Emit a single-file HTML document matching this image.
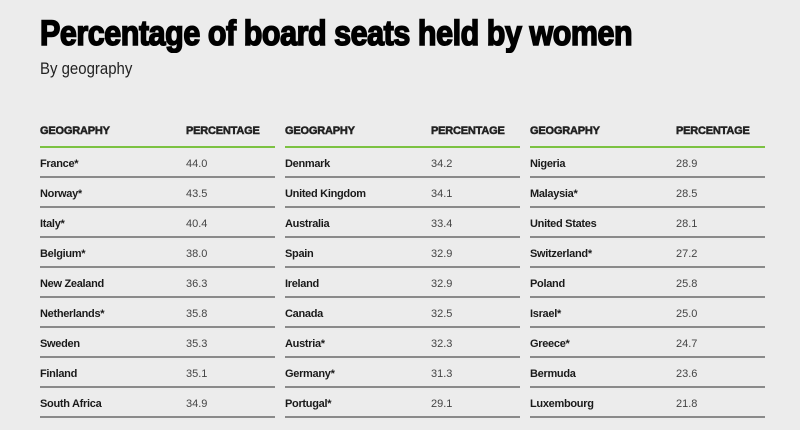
<!DOCTYPE html>
<html><head><meta charset="utf-8"><style>
body{margin:0;width:800px;height:430px;background:#ececec;font-family:"Liberation Sans",sans-serif;overflow:hidden;position:relative;color:#1a1a1a}
.t{position:absolute;left:40px;top:14px;font-size:35px;font-weight:900;color:#000;transform:scaleX(0.87);transform-origin:left top;white-space:nowrap;letter-spacing:-0.5px;-webkit-text-stroke:1.6px #000}
.s{position:absolute;left:40px;top:59px;font-size:17px;color:#222;transform:scaleX(0.88);transform-origin:left top;white-space:nowrap}
.col{position:absolute;top:0;width:235px}
.h{position:absolute;top:125px;font-size:11px;font-weight:bold;letter-spacing:-0.2px;color:#222;-webkit-text-stroke:0.5px #222}
.g{position:absolute;top:146px;left:0;width:235px;height:2px;background:#7cc242}
.r{position:absolute;left:0;width:235px;height:30px}
.r .n{position:absolute;left:0;top:10px;font-size:11px;font-weight:bold;letter-spacing:-0.3px}
.r .v{position:absolute;left:146px;top:10px;font-size:11px;color:#444}
.r .l{position:absolute;left:0;top:28px;width:235px;height:1.5px;background:#8a8a8a}
</style></head><body>
<div class="t">Percentage of board seats held by women</div>
<div class="s">By geography</div>
<div class="col" style="left:40px"><div class="h" style="left:0">GEOGRAPHY</div><div class="h" style="left:146px">PERCENTAGE</div><div class="g"></div>
<div class="r" style="top:148px"><span class="n">France*</span><span class="v">44.0</span><div class="l"></div></div>
<div class="r" style="top:178px"><span class="n">Norway*</span><span class="v">43.5</span><div class="l"></div></div>
<div class="r" style="top:208px"><span class="n">Italy*</span><span class="v">40.4</span><div class="l"></div></div>
<div class="r" style="top:238px"><span class="n">Belgium*</span><span class="v">38.0</span><div class="l"></div></div>
<div class="r" style="top:268px"><span class="n">New Zealand</span><span class="v">36.3</span><div class="l"></div></div>
<div class="r" style="top:298px"><span class="n">Netherlands*</span><span class="v">35.8</span><div class="l"></div></div>
<div class="r" style="top:328px"><span class="n">Sweden</span><span class="v">35.3</span><div class="l"></div></div>
<div class="r" style="top:358px"><span class="n">Finland</span><span class="v">35.1</span><div class="l"></div></div>
<div class="r" style="top:388px"><span class="n">South Africa</span><span class="v">34.9</span><div class="l"></div></div>
</div>
<div class="col" style="left:285px"><div class="h" style="left:0">GEOGRAPHY</div><div class="h" style="left:146px">PERCENTAGE</div><div class="g"></div>
<div class="r" style="top:148px"><span class="n">Denmark</span><span class="v">34.2</span><div class="l"></div></div>
<div class="r" style="top:178px"><span class="n">United Kingdom</span><span class="v">34.1</span><div class="l"></div></div>
<div class="r" style="top:208px"><span class="n">Australia</span><span class="v">33.4</span><div class="l"></div></div>
<div class="r" style="top:238px"><span class="n">Spain</span><span class="v">32.9</span><div class="l"></div></div>
<div class="r" style="top:268px"><span class="n">Ireland</span><span class="v">32.9</span><div class="l"></div></div>
<div class="r" style="top:298px"><span class="n">Canada</span><span class="v">32.5</span><div class="l"></div></div>
<div class="r" style="top:328px"><span class="n">Austria*</span><span class="v">32.3</span><div class="l"></div></div>
<div class="r" style="top:358px"><span class="n">Germany*</span><span class="v">31.3</span><div class="l"></div></div>
<div class="r" style="top:388px"><span class="n">Portugal*</span><span class="v">29.1</span><div class="l"></div></div>
</div>
<div class="col" style="left:530px"><div class="h" style="left:0">GEOGRAPHY</div><div class="h" style="left:146px">PERCENTAGE</div><div class="g"></div>
<div class="r" style="top:148px"><span class="n">Nigeria</span><span class="v">28.9</span><div class="l"></div></div>
<div class="r" style="top:178px"><span class="n">Malaysia*</span><span class="v">28.5</span><div class="l"></div></div>
<div class="r" style="top:208px"><span class="n">United States</span><span class="v">28.1</span><div class="l"></div></div>
<div class="r" style="top:238px"><span class="n">Switzerland*</span><span class="v">27.2</span><div class="l"></div></div>
<div class="r" style="top:268px"><span class="n">Poland</span><span class="v">25.8</span><div class="l"></div></div>
<div class="r" style="top:298px"><span class="n">Israel*</span><span class="v">25.0</span><div class="l"></div></div>
<div class="r" style="top:328px"><span class="n">Greece*</span><span class="v">24.7</span><div class="l"></div></div>
<div class="r" style="top:358px"><span class="n">Bermuda</span><span class="v">23.6</span><div class="l"></div></div>
<div class="r" style="top:388px"><span class="n">Luxembourg</span><span class="v">21.8</span><div class="l"></div></div>
</div>
</body></html>
